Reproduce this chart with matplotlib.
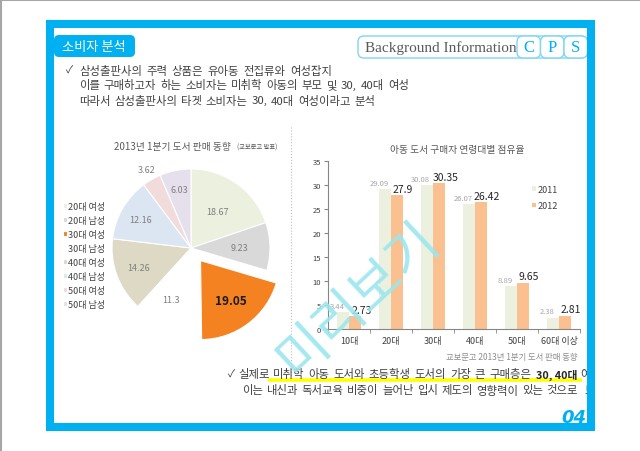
import matplotlib
matplotlib.use('Agg')
import matplotlib.pyplot as plt
import numpy as np
from matplotlib.patches import Rectangle, FancyBboxPatch

plt.rcParams['font.family'] = ['Noto Sans CJK KR', 'DejaVu Sans']

# pie: 2013년 1분기 도서 판매 동향
pie_labels = ['20대 여성', '20대 남성', '30대 여성', '30대 남성',
              '40대 여성', '40대 남성', '50대 여성', '50대 남성']
pie_values = [18.67, 9.23, 19.05, 11.3, 14.26, 12.16, 3.62, 6.03]

# bars: 아동 도서 구매자 연령대별 점유율
age_groups = ['10대', '20대', '30대', '40대', '50대', '60대 이상']
share_2011 = [3.44, 29.09, 30.08, 26.07, 8.89, 2.38]
share_2012 = [2.73, 27.9, 30.35, 26.42, 9.65, 2.81]

pie_colors = ['#EBF1DE', '#D9D9D9', '#F58220', '#FFFFFF',
              '#DDD9C4', '#DCE6F2', '#F2DCDB', '#E6E0EC']
label_dist = [0.57, 0.62, 0.63, 0.70, 0.71, 0.73, 1.14, 0.75]

W, H = 640, 452
BLUE = '#00B0F0'
TXT = '#404040'


def box(x0, y0, x1, y1):
    return [x0 / W, 1 - y1 / H, (x1 - x0) / W, (y1 - y0) / H]


fig = plt.figure(figsize=(6.4, 4.52), dpi=100)
renderer = fig.canvas.get_renderer()
bg = fig.add_axes([0, 0, 1, 1])
bg.set_xlim(0, W)
bg.set_ylim(H, 0)
bg.axis('off')


def spread(x0, x_end, y, s, **kw):
    # place words one by one so the line spans x0..x_end like the slide font does
    words = s.split(' ')
    ts = [bg.text(0, y, w, va='center', **kw) for w in words]
    widths = [t.get_window_extent(renderer).width for t in ts]
    gap = (x_end - x0 - sum(widths)) / (len(words) - 1)
    x = x0
    for t, wd in zip(ts, widths):
        t.set_x(x)
        x += wd + gap
    return ts


# slide border + blue frame
bg.plot([0, W], [0.5, 0.5], color='#A6A6A6', lw=1.5)
bg.plot([0.5, 0.5], [0, H], color='#A6A6A6', lw=1.5)
bg.add_patch(Rectangle((50, 25), 541, 403, fill=False, ec=BLUE, lw=5.8, zorder=20))
clip = Rectangle((54, 29), 533, 395, transform=bg.transData, visible=False)
bg.add_patch(clip)

# title tab
bg.add_patch(FancyBboxPatch((54, 36), 81, 22, boxstyle='round,pad=0,rounding_size=5',
                            fc=BLUE, ec='none'))
bg.text(94, 47, '소비자 분석', color='white', fontsize=9.5, ha='center', va='center')

# Background Information / C P S
bg.add_patch(FancyBboxPatch((358, 37), 229, 22, boxstyle='round,pad=0,rounding_size=6',
                            fc='white', ec='#7FD6F5', lw=1))
bg.text(365, 48, 'Background Information', family='Liberation Serif', fontsize=11,
        color='#595959', va='center')
for i, ch in enumerate('CPS'):
    x0 = 517 + i * 23.5
    bg.add_patch(FancyBboxPatch((x0, 37), 23.5, 22, boxstyle='round,pad=0,rounding_size=6',
                                fc='white', ec='#7FD6F5', lw=1))
    bg.text(x0 + 11.7, 48, ch, family='Liberation Serif', fontsize=12, color=BLUE,
            ha='center', va='center')

# top notes
bg.text(66, 71, '✓', fontsize=7.5, color=TXT, va='center')
top_lines = ['삼성출판사의 주력 상품은 유아동 전집류와 여성잡지',
             '이를 구매하고자 하는 소비자는 미취학 아동의 부모 및 30, 40대 여성',
             '따라서 삼성출판사의 타겟 소비자는 30, 40대 여성이라고 분석']
top_ends = [332, 409, 375]
for i, (s, xe) in enumerate(zip(top_lines, top_ends)):
    spread(79, xe, 71 + i * 15, s, fontsize=8.2, color=TXT)

# separator
bg.plot([291, 291], [128, 378], ls=':', color='#BFBFBF', lw=0.8)

# ---- pie
cx, cy, R = 191, 249, 79
pie_ax = fig.add_axes(box(cx - 110, cy - 110, cx + 110, cy + 110))
explode = [0.2 if v == max(pie_values) else 0 for v in pie_values]
wedges, _ = pie_ax.pie(pie_values, colors=pie_colors, startangle=90, counterclock=False,
                       explode=explode, wedgeprops=dict(edgecolor='white', linewidth=0.8))
lim = 110 / R
pie_ax.set_xlim(-lim, lim)
pie_ax.set_ylim(-lim, lim)
for w, v, d in zip(wedges, pie_values, label_dist):
    a = np.deg2rad((w.theta1 + w.theta2) / 2)
    x = w.center[0] + d * np.cos(a)
    y = w.center[1] + d * np.sin(a)
    if v == max(pie_values):
        pie_ax.text(x, y, f'{v:g}', ha='center', va='center', fontsize=8.5,
                    fontweight='bold', color='#1A1A1A')
    else:
        pie_ax.text(x, y, f'{v:g}', ha='center', va='center', fontsize=6.5, color='#7F7F7F')
leg = pie_ax.legend(wedges, pie_labels, loc='upper left', bbox_to_anchor=(63 / W, 1 - 203 / H),
                    bbox_transform=fig.transFigure, frameon=False, fontsize=6.5,
                    handlelength=0.45, handleheight=0.45, handletextpad=0.15,
                    labelspacing=0.55, borderpad=0, borderaxespad=0)
for t in leg.get_texts():
    t.set_color(TXT)
bg.text(172, 147, '2013년 1분기 도서 판매 동향', fontsize=7, color='#595959',
        ha='center', va='center')
bg.text(237, 148, '(교보문고 발표)', fontsize=4.5, color='#595959', va='center')

# ---- bars
bar_ax = fig.add_axes(box(328, 162, 580, 330))
x = np.arange(len(age_groups))
bw = 0.29
b1 = bar_ax.bar(x - bw / 2, share_2011, bw, color='#EBF1DE', label='2011')
b2 = bar_ax.bar(x + bw / 2, share_2012, bw, color='#FAC090', label='2012')
for r, v in zip(b1, share_2011):
    bar_ax.annotate(f'{v:g}', (r.get_x(), v), xytext=(0, 1.5), textcoords='offset points',
                    ha='center', va='bottom', fontsize=5.5, color='#A6A6A6')
for r, v in zip(b2, share_2012):
    bar_ax.annotate(f'{v:g}', (r.get_x() + r.get_width(), v), xytext=(0, 1),
                    textcoords='offset points', ha='center', va='bottom', fontsize=7.5,
                    color='#262626')
bar_ax.set_xlim(-0.5, len(age_groups) - 0.5)
bar_ax.set_ylim(0, 35)
bar_ax.set_yticks(np.arange(0, 36, 5))
bar_ax.set_xticks(x)
bar_ax.set_xticklabels(age_groups)
bar_ax.set_xticks(np.arange(-0.5, len(age_groups)), minor=True)
bar_ax.tick_params(axis='x', which='major', length=0, labelsize=6.5, labelcolor=TXT, pad=5)
bar_ax.tick_params(axis='x', which='minor', length=3, color='#868686')
bar_ax.tick_params(axis='y', length=3, color='#868686', labelsize=5.5, labelcolor=TXT, pad=2)
for s in ['top', 'right']:
    bar_ax.spines[s].set_visible(False)
for s in ['left', 'bottom']:
    bar_ax.spines[s].set_color('#868686')
    bar_ax.spines[s].set_linewidth(0.8)
bar_ax.set_facecolor('none')
bl = bar_ax.legend(loc='upper left', bbox_to_anchor=(532 / W, 1 - 186 / H),
                   bbox_transform=fig.transFigure, frameon=False, fontsize=6.5,
                   handlelength=0.45, handleheight=0.45, handletextpad=0.2,
                   labelspacing=0.8, borderpad=0, borderaxespad=0)
for t in bl.get_texts():
    t.set_color(TXT)
bg.text(457, 150, '아동 도서 구매자 연령대별 점유율', fontsize=7, color='#595959',
        ha='center', va='center')
bg.text(577, 358, '교보문고 2013년 1분기 도서 판매 동향', fontsize=6, color='#8C8C8C',
        ha='right', va='center')

# ---- bottom notes
bg.plot([268, 582], [381, 381], color='#FFFF00', lw=2.6, solid_capstyle='butt', zorder=1)
bot = [bg.text(228, 375, '✓', fontsize=7.5, color=TXT, va='center')]
bot += spread(238, 531, 375, '실제로 미취학 아동 도서와 초등학생 도서의 가장 큰 구매층은',
              fontsize=8.2, color=TXT)
bold = bg.text(536, 375, '30, 40대', fontsize=7.8, color='#262626', fontweight='bold',
               va='center')
bx = bg.transData.inverted().transform((bold.get_window_extent(renderer).x1, 0))[0]
bot += [bold, bg.text(bx + 3, 375, '여성', fontsize=8.2, color=TXT, va='center')]
line2 = '이는 내신과 독서교육 비중이 늘어난 입시 제도의 영향력이 있는 것으로'
bot += spread(242, 578, 391, line2, fontsize=8.2, color=TXT)
bot += [bg.text(584, 391, '보임', fontsize=8.2, color=TXT, va='center')]
for t in bot:
    t.set_zorder(3)
    t.set_clip_on(True)
    t.set_clip_path(clip)
pg = bg.text(574, 418, '04', fontsize=13, fontweight='bold', fontstyle='italic',
             color=BLUE, ha='center', va='center', family='DejaVu Sans')
pg.set_clip_on(True)
pg.set_clip_path(clip)

# watermark
fig.text(358, 300, '미리보기', transform=bg.transData, rotation=43, fontsize=39,
         color='#9BE6EE', alpha=0.9, ha='center', va='center', zorder=30)

fig.savefig('out.png', dpi=100)
